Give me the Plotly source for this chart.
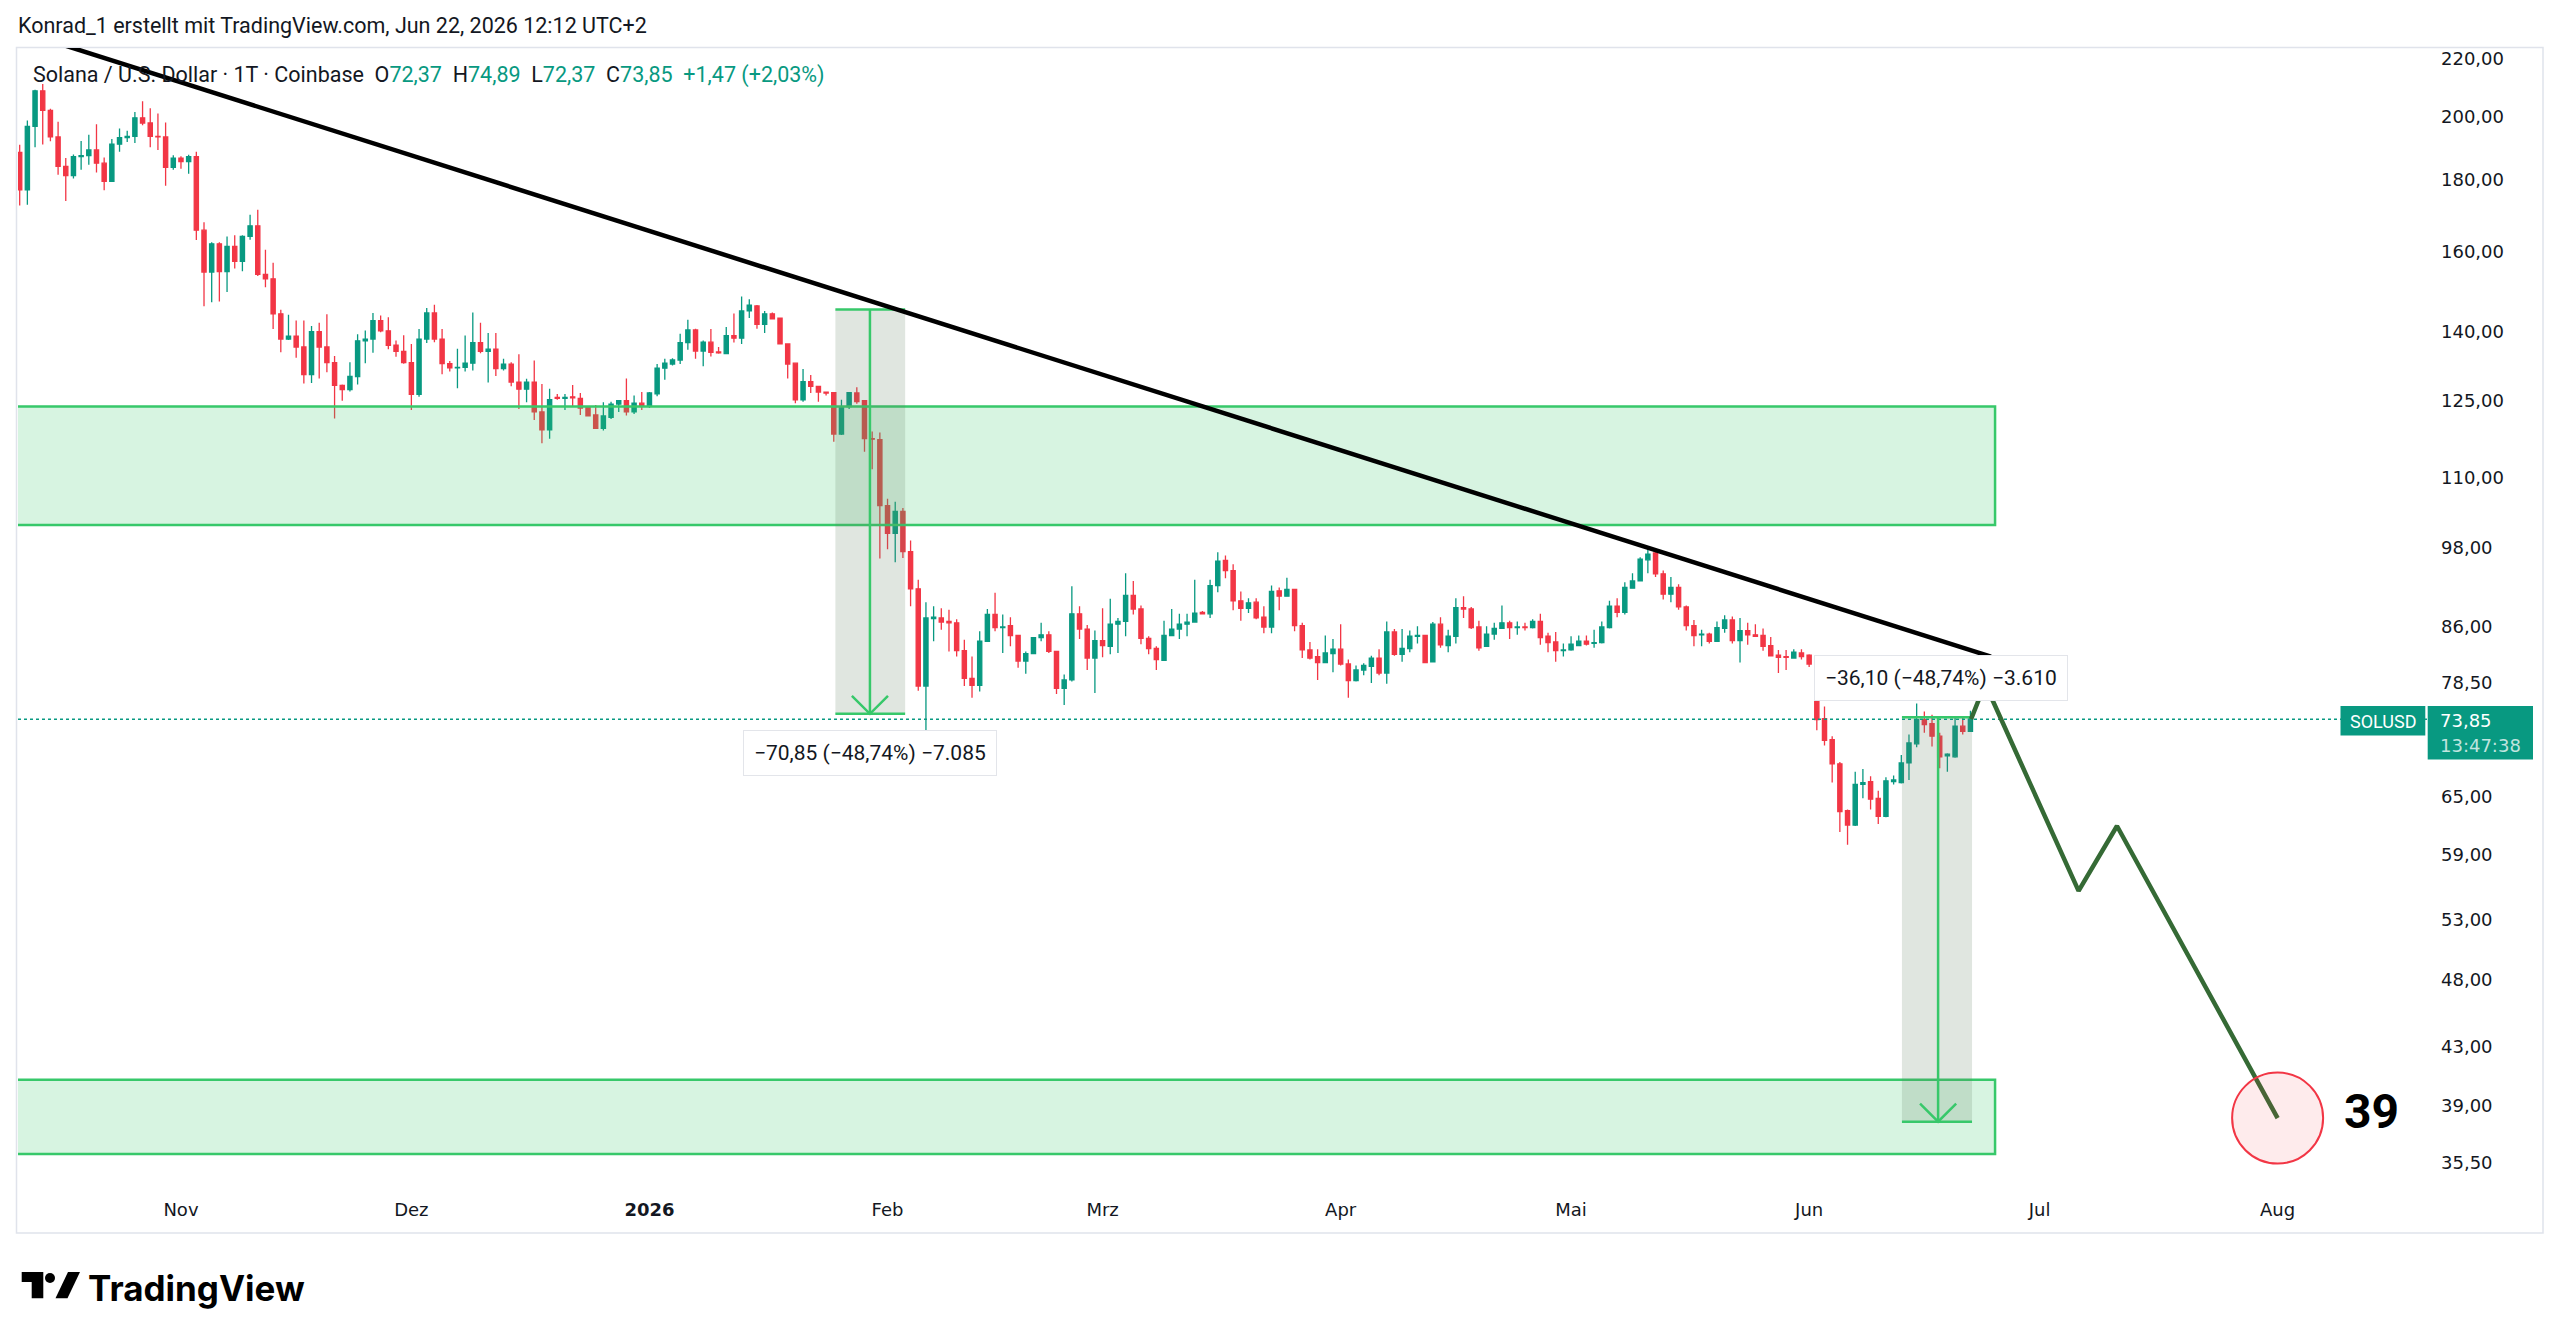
import numpy as np
import pandas as pd
import plotly.graph_objects as go

# ---------------- DATA: daily SOL/USD candles (open, high, low, close) ----------------
OCT_2025 = [  # from 2025-10-11
    (188.4, 190.8, 172.6, 177.1), (177.1, 198.6, 172.8, 196.7), (196.7, 209.0, 190.0, 208.6),
    (208.6, 211.0, 190.9, 202.0), (202.0, 202.5, 191.9, 193.3), (193.3, 198.2, 181.6, 184.1),
    (184.1, 186.7, 173.9, 181.3), (181.3, 187.8, 180.5, 187.1), (187.1, 192.0, 183.1, 187.4),
    (187.4, 194.0, 184.6, 189.2), (189.2, 197.4, 182.3, 185.1), (185.1, 186.8, 177.0, 179.6),
    (179.6, 192.6, 179.4, 191.0), (191.0, 196.0, 188.6, 193.1), (193.1, 195.3, 191.7, 193.5),
    (193.5, 201.4, 191.4, 199.5), (199.5, 205.0, 197.1, 197.8), (197.8, 202.7, 190.0, 193.5),
    (193.5, 200.9, 189.2, 193.3), (193.3, 198.0, 178.3, 183.8), (183.8, 187.5, 183.1, 186.6),
]
NOV_2025 = [
    (186.6, 187.2, 183.4, 185.6), (185.6, 187.7, 181.9, 187.1), (187.1, 188.6, 163.0, 165.7),
    (165.7, 167.9, 146.1, 154.6), (154.6, 162.4, 147.1, 162.0), (162.0, 162.4, 147.3, 154.7),
    (154.7, 164.0, 149.6, 161.3), (161.3, 164.3, 155.5, 157.4), (157.4, 164.3, 154.8, 164.0),
    (164.0, 170.0, 163.1, 166.9), (166.9, 171.4, 153.6, 154.0), (154.0, 160.4, 150.8, 152.9),
    (152.9, 157.0, 140.7, 144.3), (144.3, 145.3, 135.4, 138.4), (138.4, 144.1, 138.2, 139.1),
    (139.1, 142.7, 134.2, 136.6), (136.6, 142.7, 128.6, 130.5), (130.5, 141.4, 128.7, 140.1),
    (140.1, 142.2, 129.7, 136.6), (136.6, 144.2, 131.0, 133.1), (133.1, 134.6, 121.4, 128.2),
    (128.2, 128.4, 125.0, 127.3), (127.3, 133.2, 126.9, 130.1), (130.1, 139.5, 128.4, 138.0),
    (138.0, 140.4, 133.0, 138.4), (138.4, 144.5, 135.3, 142.7), (142.7, 143.9, 140.0, 140.3),
    (140.3, 143.5, 136.1, 137.0), (137.0, 138.1, 134.4, 135.6), (135.6, 139.3, 132.9, 133.1),
]
DEC_2025 = [
    (133.1, 137.3, 123.1, 126.3), (126.3, 140.7, 125.8, 138.4), (138.4, 145.7, 137.5, 144.5),
    (144.5, 146.5, 137.7, 138.4), (138.4, 140.7, 130.6, 132.9), (132.9, 133.5, 131.2, 132.0),
    (132.0, 136.2, 127.6, 132.1), (132.1, 139.2, 131.2, 133.0), (133.0, 144.6, 131.4, 137.6),
    (137.6, 142.2, 135.2, 135.6), (135.6, 139.8, 128.8, 136.1), (136.1, 139.8, 130.2, 131.8),
    (131.8, 134.0, 131.4, 132.8), (132.8, 133.2, 128.0, 128.9), (128.9, 135.0, 123.3, 127.4),
    (127.4, 129.6, 124.7, 128.9), (128.9, 133.6, 121.1, 122.7), (122.7, 128.5, 116.5, 119.1),
    (119.1, 127.5, 117.4, 125.2), (125.7, 126.4, 125.2, 125.5), (125.5, 126.4, 123.1, 125.7),
    (125.8, 128.3, 123.8, 125.6), (125.5, 126.6, 122.1, 123.5), (123.7, 123.8, 121.8, 121.9),
    (122.1, 124.1, 119.3, 119.4), (119.4, 124.7, 119.0, 121.9), (121.6, 124.8, 121.3, 124.3),
    (124.3, 125.1, 122.7, 125.0), (125.0, 129.7, 122.0, 122.7), (122.7, 126.1, 122.3, 124.5),
    (124.5, 126.8, 123.1, 124.0),
]
JAN_2026 = [
    (123.9, 126.8, 123.5, 126.6), (126.4, 132.8, 125.9, 131.9), (131.9, 134.0, 129.4, 133.0),
    (132.8, 134.1, 132.5, 133.7), (133.7, 139.6, 132.8, 137.6), (137.6, 142.9, 136.0, 140.5),
    (140.5, 140.8, 134.0, 135.7), (135.7, 138.1, 132.3, 137.7), (137.7, 140.7, 134.5, 135.4),
    (135.5, 136.6, 135.1, 135.3), (135.1, 141.2, 135.0, 139.2), (139.2, 144.4, 137.6, 138.6),
    (138.6, 148.5, 137.3, 145.0), (145.0, 147.8, 143.3, 146.4), (146.2, 146.4, 140.8, 141.8),
    (141.8, 145.0, 139.8, 144.3), (144.3, 144.6, 143.0, 143.1), (143.3, 143.4, 137.2, 137.3),
    (137.3, 137.4, 129.7, 132.8), (133.0, 133.1, 124.5, 125.2), (125.2, 131.7, 124.8, 129.0),
    (129.0, 130.4, 126.6, 128.0), (128.0, 128.1, 124.8, 126.8), (126.8, 126.9, 126.1, 126.6),
    (126.7, 126.8, 116.8, 118.3), (118.3, 125.2, 118.1, 123.8), (123.8, 126.8, 123.3, 126.7),
    (126.6, 127.8, 124.4, 124.8), (125.0, 125.1, 114.9, 117.4), (117.4, 118.8, 111.6, 117.3),
    (117.2, 118.6, 96.3, 105.1),
]
FEB_2026 = [
    (105.1, 106.3, 97.8, 100.4), (100.4, 105.8, 95.7, 104.1), (104.1, 104.7, 96.4, 97.4),
    (97.4, 99.2, 89.0, 91.6), (91.6, 93.0, 77.4, 78.0), (78.0, 89.6, 67.5, 87.3),
    (87.2, 89.0, 84.0, 87.4), (87.3, 88.7, 85.6, 86.7), (86.8, 88.5, 82.6, 86.6),
    (86.6, 87.1, 81.9, 82.7), (82.7, 84.2, 78.0, 79.0), (79.0, 81.9, 76.5, 78.1),
    (78.1, 85.4, 77.3, 84.0), (84.0, 88.6, 83.9, 87.8), (87.8, 91.0, 85.4, 85.9),
    (85.9, 87.8, 82.4, 86.0), (86.2, 87.4, 83.3, 84.8), (84.8, 84.9, 80.4, 81.3),
    (81.3, 82.6, 79.6, 82.3), (82.3, 84.6, 82.2, 84.5), (84.5, 86.6, 84.0, 84.9),
    (84.9, 85.4, 82.4, 82.6), (82.6, 82.7, 77.0, 77.7), (77.7, 79.5, 75.6, 78.8),
    (78.8, 92.0, 78.6, 87.9), (87.9, 89.0, 84.3, 85.7), (85.7, 86.3, 80.1, 81.7),
    (81.7, 85.5, 77.1, 84.1),
]
MAR_2026 = [
    (84.1, 88.7, 81.8, 83.4), (83.3, 90.1, 82.2, 86.4), (86.4, 87.3, 82.4, 86.8),
    (86.8, 94.0, 84.7, 90.6), (90.6, 92.8, 87.8, 88.6), (88.6, 89.1, 83.6, 84.4),
    (84.4, 84.7, 82.2, 83.0), (83.0, 83.3, 80.1, 81.5), (81.4, 86.9, 81.3, 84.8),
    (84.8, 88.6, 84.7, 85.7), (85.7, 87.9, 84.3, 86.4), (86.4, 87.9, 84.7, 86.7),
    (86.7, 93.0, 86.6, 88.0), (88.1, 88.3, 87.8, 87.9), (87.9, 93.0, 87.3, 92.1),
    (92.1, 97.3, 91.1, 95.9), (96.0, 96.8, 93.2, 94.4), (94.4, 95.4, 88.4, 89.8),
    (89.8, 91.2, 86.9, 88.7), (88.7, 90.2, 88.0, 89.5), (89.6, 90.2, 87.1, 87.3),
    (87.4, 89.0, 85.1, 86.0), (86.0, 92.1, 85.1, 91.2), (91.3, 91.8, 88.4, 90.5),
    (90.5, 93.3, 90.4, 91.5), (91.5, 91.6, 85.4, 86.2), (86.2, 86.6, 81.7, 82.8),
    (82.8, 83.9, 81.5, 81.7), (81.9, 82.9, 78.8, 81.1), (81.1, 84.8, 81.0, 82.4),
    (82.3, 84.3, 79.8, 82.9),
]
APR_2026 = [
    (82.9, 86.4, 80.7, 80.9), (80.9, 81.5, 76.5, 78.7), (78.7, 80.7, 78.6, 80.1),
    (80.1, 81.0, 79.4, 80.7), (80.6, 82.0, 78.4, 81.7), (81.7, 82.9, 79.4, 79.7),
    (79.7, 86.8, 78.3, 85.3), (85.3, 85.7, 82.0, 82.2), (82.2, 85.7, 81.2, 83.0),
    (83.0, 85.5, 82.5, 84.7), (84.7, 86.1, 83.7, 84.8), (84.8, 84.9, 81.0, 81.1),
    (81.2, 86.7, 81.1, 86.4), (86.4, 87.4, 83.1, 83.5), (83.4, 85.6, 82.5, 84.7),
    (84.7, 90.2, 83.7, 88.8), (88.8, 90.5, 87.3, 88.6), (88.6, 88.9, 85.7, 85.9),
    (86.0, 86.9, 82.7, 83.1), (83.3, 86.1, 83.2, 85.0), (85.0, 86.6, 84.2, 85.8),
    (85.8, 89.1, 85.7, 86.6), (86.6, 86.9, 84.3, 85.9), (85.9, 86.8, 84.9, 86.0),
    (86.0, 86.6, 85.5, 85.9), (85.9, 87.1, 85.8, 86.8), (86.8, 87.9, 83.5, 84.5),
    (84.7, 85.2, 82.5, 83.8), (83.9, 85.3, 81.2, 82.7), (82.7, 83.7, 81.9, 82.8),
]
MAY_2026 = [
    (82.8, 84.7, 82.7, 83.6), (83.4, 84.8, 83.3, 84.0), (84.0, 84.8, 83.4, 83.6),
    (83.7, 85.6, 83.1, 83.8), (83.8, 86.8, 83.7, 86.0), (85.9, 89.8, 85.8, 89.0),
    (89.0, 90.2, 87.4, 88.1), (88.1, 92.6, 87.8, 91.8), (91.7, 94.0, 91.6, 92.8),
    (92.8, 96.5, 92.7, 96.2), (96.1, 98.1, 94.0, 97.0), (97.2, 97.4, 93.4, 93.9),
    (93.9, 94.4, 90.0, 90.8), (90.8, 93.4, 89.6, 91.8), (91.8, 92.3, 88.5, 88.9),
    (88.9, 89.1, 85.5, 86.2), (86.2, 87.0, 83.3, 84.8), (84.9, 85.6, 83.3, 85.0),
    (85.0, 85.2, 83.7, 84.0), (84.0, 86.8, 83.9, 85.9), (85.8, 87.7, 85.2, 87.0),
    (87.0, 87.5, 83.7, 84.1), (84.1, 87.3, 81.1, 85.5), (85.5, 86.6, 83.5, 84.9),
    (84.9, 86.4, 84.6, 84.7), (84.8, 85.8, 82.7, 83.3), (83.4, 84.6, 81.9, 82.0),
    (82.1, 82.8, 79.7, 81.8), (81.9, 82.8, 80.1, 81.8), (81.7, 82.9, 81.6, 82.5),
    (82.4, 82.9, 81.5, 81.9),
]
JUN_2026 = [
    (82.1, 82.2, 80.5, 80.9), (80.9, 81.0, 72.5, 73.8), (73.9, 75.4, 70.7, 71.3),
    (71.4, 71.8, 66.5, 68.6), (68.6, 68.8, 61.3, 63.4), (63.5, 63.6, 60.0, 62.0),
    (62.0, 67.7, 61.9, 66.3), (66.3, 68.0, 64.8, 66.5), (66.6, 67.2, 63.6, 64.7),
    (64.8, 65.6, 62.1, 62.9), (62.9, 67.1, 62.8, 66.7), (66.6, 67.3, 66.3, 66.8),
    (66.5, 69.6, 66.4, 68.7), (68.7, 72.0, 66.8, 71.0), (70.9, 75.8, 70.5, 73.8),
    (73.8, 74.8, 72.2, 73.2), (73.3, 74.4, 70.6, 71.8), (71.8, 72.2, 68.1, 69.4),
    (69.5, 69.8, 67.7, 69.7), (69.4, 74.0, 69.3, 73.0), (73.0, 74.0, 72.0, 72.38),
    (72.37, 74.89, 72.37, 73.85),
]

ROWS = OCT_2025 + NOV_2025 + DEC_2025 + JAN_2026 + FEB_2026 + MAR_2026 + APR_2026 + MAY_2026 + JUN_2026
DATES = pd.date_range("2025-10-11", periods=len(ROWS), freq="D")
OPEN = [r[0] for r in ROWS]
HIGH = [r[1] for r in ROWS]
LOW = [r[2] for r in ROWS]
CLOSE = [r[3] for r in ROWS]

# support / resistance zones (price bands) and their right end
ZONE_UPPER = (101.8, 123.8)
ZONE_LOWER = (36.0, 40.7)
ZONE_START = "2025-09-20"
ZONE_END = "2026-06-25 05:00"

# descending trendline
TREND_X = ["2025-10-13 15:00", "2026-06-24 16:00"]
TREND_Y = [227.8, 81.9]

# price-range measurement boxes: (x0, x1, arrow x, top, bottom, label x, label y, label)
MEASURES = [
    ("2026-01-25 05:00", "2026-02-03 07:00", "2026-01-29 17:00", 145.36, 74.51,
     "2026-01-29 17:00", 69.8, "\u221270,85 (\u221248,74%) \u22127.085"),
    ("2026-06-13 02:00", "2026-06-22 05:00", "2026-06-17 19:00", 74.07, 37.97,
     "2026-06-18 05:00", 79.0, "\u221236,10 (\u221248,74%) \u22123.610"),
]

# projected path
PATH_X = ["2026-06-22 02:00", "2026-06-23 22:00", "2026-07-06 02:00", "2026-07-11 02:00", "2026-08-01 00:00"]
PATH_Y = [73.85, 78.3, 55.6, 61.9, 38.2]
TARGET_LABEL = "39"

Y_TICKS = [220, 200, 180, 160, 140, 125, 110, 98, 86, 78.5, 65, 59, 53, 48, 43, 39, 35.5]
X_TICKS = ["2025-11-01", "2025-12-01", "2026-01-01", "2026-02-01", "2026-03-01",
           "2026-04-01", "2026-05-01", "2026-06-01", "2026-07-01", "2026-08-01"]
X_LABELS = ["Nov", "Dez", "<b>2026</b>", "Feb", "Mrz", "Apr", "Mai", "Jun", "Jul", "Aug"]

# ---------------- styling / layout geometry ----------------
W, H = 2560, 1340
L, R, T, B = 18, 132, 48, 155
PW, PH = W - L - R, H - T - B
UP, DOWN = "#089981", "#f23645"
GREEN = "#37c86a"
TXT = "#131722"
FONT = "Roboto"
TICKFONT = "DejaVu Sans"

ref = pd.Timestamp("2025-11-01")
X_RANGE = [ref + pd.Timedelta(days=-21.22), ref + pd.Timedelta(days=292.58)]
Y_RANGE = [np.log10(34.2), np.log10(223.9)]


def px(x):
    return (x - L) / PW


def py(y):
    return (H - B - y) / PH


fig = go.Figure()

# zones
for lo, hi in (ZONE_UPPER, ZONE_LOWER):
    fig.add_trace(go.Scatter(
        x=[ZONE_START, ZONE_END, ZONE_END, ZONE_START, ZONE_START],
        y=[lo, lo, hi, hi, lo], mode="lines", fill="toself",
        fillcolor="rgba(55,200,106,0.2)", line=dict(color=GREEN, width=2.5),
        hoverinfo="skip", showlegend=False))

# measurement box fills
for x0, x1, xm, top, bot, lx, ly, txt in MEASURES:
    fig.add_trace(go.Scatter(
        x=[x0, x1, x1, x0, x0], y=[bot, bot, top, top, bot], mode="lines",
        fill="toself", fillcolor="rgba(100,130,100,0.2)", line=dict(width=0),
        hoverinfo="skip", showlegend=False))

# current price dotted line
fig.add_trace(go.Scatter(x=X_RANGE, y=[CLOSE[-1], CLOSE[-1]], mode="lines",
                         line=dict(color=UP, width=1.5, dash="dot"),
                         hoverinfo="skip", showlegend=False))

# candles
fig.add_trace(go.Candlestick(
    x=DATES, open=OPEN, high=HIGH, low=LOW, close=CLOSE,
    increasing=dict(line=dict(color=UP, width=1.3), fillcolor=UP),
    decreasing=dict(line=dict(color=DOWN, width=1.3), fillcolor=DOWN),
    whiskerwidth=0, showlegend=False, hoverinfo="skip"))

# measurement box lines + arrows
for x0, x1, xm, top, bot, lx, ly, txt in MEASURES:
    for yv in (top, bot):
        fig.add_trace(go.Scatter(x=[x0, x1], y=[yv, yv], mode="lines",
                                 line=dict(color=GREEN, width=2.5),
                                 hoverinfo="skip", showlegend=False))
    fig.add_trace(go.Scatter(x=[xm, xm], y=[top, bot], mode="lines",
                             line=dict(color=GREEN, width=2.5),
                             hoverinfo="skip", showlegend=False))
    xmid = pd.Timestamp(xm)
    dx = pd.Timedelta(days=2.35)
    fy = np.exp(18 / 605.2)
    fig.add_trace(go.Scatter(x=[xmid - dx, xmid, xmid + dx], y=[bot * fy, bot, bot * fy],
                             mode="lines", line=dict(color=GREEN, width=2.5),
                             hoverinfo="skip", showlegend=False))

# trendline
fig.add_trace(go.Scatter(x=TREND_X, y=TREND_Y, mode="lines",
                         line=dict(color="#000000", width=4.5),
                         hoverinfo="skip", showlegend=False))

# projection path
fig.add_trace(go.Scatter(x=PATH_X, y=PATH_Y, mode="lines",
                         line=dict(color="#356a35", width=4.5),
                         hoverinfo="skip", showlegend=False))

# target circle
fig.add_trace(go.Scatter(x=[PATH_X[-1]], y=[PATH_Y[-1]], mode="markers",
                         marker=dict(size=91, color="rgba(242,54,69,0.1)",
                                     line=dict(color=DOWN, width=2)),
                         hoverinfo="skip", showlegend=False))

annotations = []
for x0, x1, xm, top, bot, lx, ly, txt in MEASURES:
    annotations.append(dict(x=lx, y=np.log10(ly), xref="x", yref="y", text=txt,
                            xanchor="center", yanchor="middle",
                            showarrow=False, bgcolor="white", bordercolor="#e3e5ea",
                            borderwidth=1, borderpad=10,
                            font=dict(family=FONT, size=21, color=TXT)))

annotations.append(dict(x="2026-08-13 05:00", y=np.log10(38.6), xref="x", yref="y",
                        xanchor="center", yanchor="middle",
                        text="<b>" + TARGET_LABEL + "</b>", showarrow=False,
                        font=dict(family=FONT, size=48, color="#000000")))

# header
annotations.append(dict(x=px(16), y=py(26), xref="paper", yref="paper", xanchor="left",
                        yanchor="middle", showarrow=False,
                        text="Konrad_1 erstellt mit TradingView.com, Jun 22, 2026 12:12 UTC+2",
                        font=dict(family=FONT, size=21.5, color=TXT)))


def teal(s):
    return "<span style='color:%s'>%s</span>" % (UP, s)


fmt = lambda v: ("%.2f" % v).replace(".", ",")
chg = CLOSE[-1] - CLOSE[-2]
legend_txt = ("Solana / U.S. Dollar \u00b7 1T \u00b7 Coinbase\u00a0\u00a0"
              "O" + teal(fmt(OPEN[-1])) + "\u00a0\u00a0H" + teal(fmt(HIGH[-1])) +
              "\u00a0\u00a0L" + teal(fmt(LOW[-1])) + "\u00a0\u00a0C" + teal(fmt(CLOSE[-1])) +
              "\u00a0\u00a0" + teal("+" + fmt(chg) + " (+" + fmt(chg / CLOSE[-2] * 100) + "%)"))
annotations.append(dict(x=px(31), y=py(75), xref="paper", yref="paper", xanchor="left",
                        yanchor="middle", showarrow=False, text=legend_txt,
                        font=dict(family=FONT, size=21.5, color=TXT)))

# price labels on axis
annotations.append(dict(x=px(2383), y=py(721), xref="paper", yref="paper", showarrow=False,
                        xanchor="center", yanchor="middle",
                        text="SOLUSD", font=dict(family=FONT, size=18, color="white")))
annotations.append(dict(x=px(2438), y=py(720), xref="paper", yref="paper", xanchor="left",
                        yanchor="middle", showarrow=False, text=fmt(CLOSE[-1]),
                        font=dict(family=TICKFONT, size=18, color="white")))
annotations.append(dict(x=px(2438), y=py(745), xref="paper", yref="paper", xanchor="left",
                        yanchor="middle", showarrow=False, text="13:47:38",
                        font=dict(family=TICKFONT, size=18, color="rgba(255,255,255,0.75)")))

# TradingView logo text
annotations.append(dict(x=px(86), y=py(1288), xref="paper", yref="paper", xanchor="left",
                        yanchor="middle", showarrow=False, text="<b>TradingView</b>",
                        font=dict(family="Inter", size=35, color="#000000")))

shapes = [
    # chart frame
    dict(type="rect", xref="paper", yref="paper", x0=px(16.5), x1=px(2543), y0=py(47.5), y1=py(1233),
         line=dict(color="#e0e3eb", width=1.5), layer="below"),
    # SOLUSD label box
    dict(type="rect", xref="paper", yref="paper", x0=px(2340.5), x1=px(2425.3), y0=py(706), y1=py(735.4),
         fillcolor=UP, line=dict(width=0)),
    dict(type="rect", xref="paper", yref="paper", x0=px(2427.7), x1=px(2533), y0=py(706), y1=py(759.5),
         fillcolor=UP, line=dict(width=0)),
    # logo
    dict(type="path", xref="paper", yref="paper",
         path="M %f %f L %f %f L %f %f L %f %f L %f %f L %f %f Z" % (
             px(21.7), py(1272), px(43.3), py(1272), px(43.3), py(1298.3),
             px(31.7), py(1298.3), px(31.7), py(1282), px(21.7), py(1282)),
         fillcolor="#000000", line=dict(width=0)),
    dict(type="circle", xref="paper", yref="paper", x0=px(45), x1=px(55), y0=py(1283), y1=py(1273),
         fillcolor="#000000", line=dict(width=0)),
    dict(type="path", xref="paper", yref="paper",
         path="M %f %f L %f %f L %f %f L %f %f Z" % (
             px(55.5), py(1298.3), px(68), py(1272), px(80), py(1272), px(67.5), py(1298.3)),
         fillcolor="#000000", line=dict(width=0)),
]

fig.update_layout(
    width=W, height=H, margin=dict(l=L, r=R, t=T, b=B, pad=0),
    paper_bgcolor="white", plot_bgcolor="white", showlegend=False,
    boxgap=0.22,
    annotations=annotations, shapes=shapes,
    xaxis=dict(type="date", range=X_RANGE, rangeslider=dict(visible=False),
               tickmode="array", tickvals=X_TICKS, ticktext=X_LABELS,
               showgrid=False, zeroline=False, showline=False, ticks="",
               ticklabelstandoff=12,
               tickfont=dict(family=TICKFONT, size=18, color=TXT), fixedrange=True),
    yaxis=dict(type="log", side="right", range=Y_RANGE, tickmode="array",
               tickvals=Y_TICKS, ticktext=[fmt(v) for v in Y_TICKS],
               showgrid=False, zeroline=False, showline=False, ticks="",
               ticklabelstandoff=12,
               tickfont=dict(family=TICKFONT, size=18, color=TXT), fixedrange=True),
)

fig.write_html("out.html")
